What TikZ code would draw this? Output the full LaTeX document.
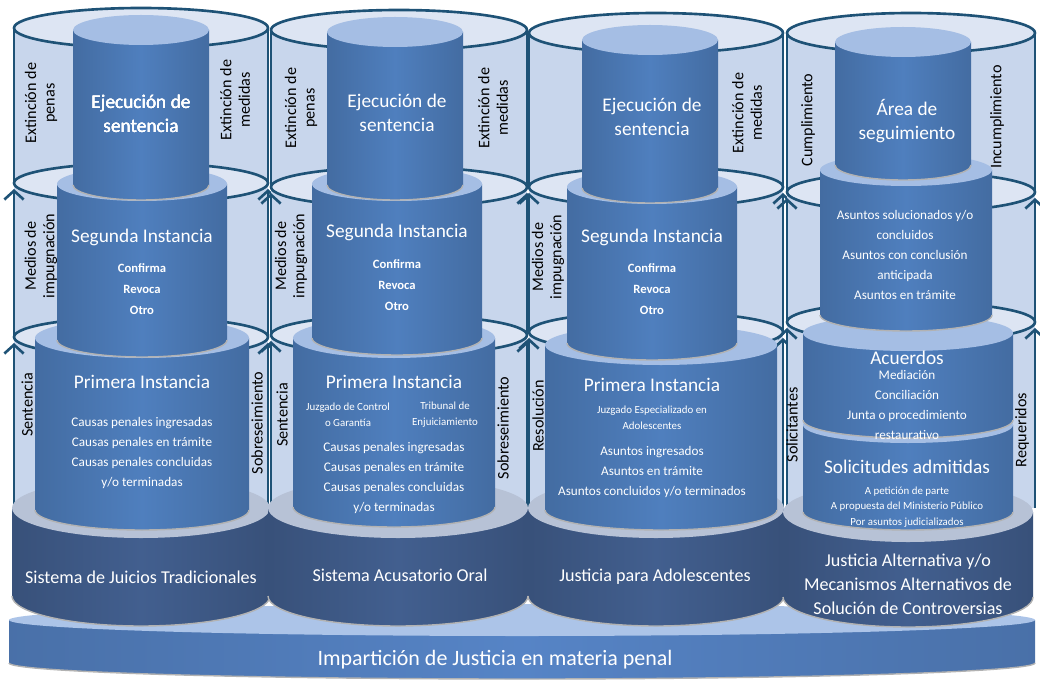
\documentclass[tikz,border=0pt]{standalone}
\usepackage{fontspec}
\setmainfont{Carlito}
\usetikzlibrary{arrows.meta}

\definecolor{tubofondo}{RGB}{200,214,236}
\definecolor{tubotapa}{RGB}{221,229,243}
\definecolor{tuborilla}{RGB}{30,82,118}
\definecolor{azul}{RGB}{79,127,190}
\definecolor{azultapa}{RGB}{165,190,228}
\definecolor{marino}{RGB}{66,95,143}
\definecolor{marinotapa}{RGB}{183,194,214}
\definecolor{plataforma}{RGB}{86,132,198}
\definecolor{plataformatapa}{RGB}{172,196,232}

%% cylinder: x centre, x radius, top y, bottom y, y radius, body colour, cap colour
\newcommand{\cilindro}[7]{%
  \shade[left color=#6!85!black,right color=#6!85!black,middle color=#6]
    (#1-#2,#3) -- (#1-#2,#4)
    arc[start angle=180,end angle=360,x radius={#2*0.02cm},y radius={#5*0.02cm}]
    -- (#1+#2,#3) -- cycle;
  \draw[black!30,line width=0.8pt] (#1-#2,#4)
    arc[start angle=180,end angle=360,x radius={#2*0.02cm},y radius={#5*0.02cm}];
  \fill[#7] (#1,#3) ellipse[x radius={#2*0.02cm},y radius={#5*0.02cm}];
}

\begin{document}
\begin{tikzpicture}
[x=0.02cm,y=0.02cm,
  borde/.style={tuborilla,line width=1.5pt},
  flecha/.style={borde,-{Straight Barb[length=5pt,width=11pt]}},
  anillo/.style={borde,fill=tubotapa},
  titulo/.style={text=white,align=center,font=\fontsize{11}{14}\selectfont},
  lista/.style={text=white,align=center,font=\fontsize{7.5}{11.4}\selectfont},
  breve/.style={text=white,align=center,font=\bfseries\fontsize{7.2}{12}\selectfont},
  chica/.style={text=white,align=center,font=\fontsize{6.2}{9}\selectfont},
  sistema/.style={text=white,align=center,font=\fontsize{10.3}{13.6}\selectfont},
  etiqueta/.style={text=black,align=center,rotate=90,font=\fontsize{9.2}{10.5}\selectfont}]
\useasboundingbox (0,0) rectangle (1040,-682);
%% platform under everything
\cilindro{522}{513}{-620}{-663}{16}{plataforma}{plataformatapa}
%% outer tubes and their rings
\foreach \xc/\rx/\ya/\yb/\yc in {141/127/-28/-183/-337, 399/128/-30/-187/-335,
  656/127/-33/-187/-332, 911/124/-33/-192/-322} {
  \fill[tubofondo] (\xc-\rx,\ya) rectangle (\xc+\rx,-508);
  \foreach \yr in {\ya,\yb,\yc}
    \filldraw[anillo] (\xc,\yr) ellipse[x radius={\rx*0.02cm},y radius=0.4cm];
  \foreach \xe in {\xc-\rx,\xc+\rx} {
    \draw[borde] (\xe,\ya) -- (\xe,\yb);
    \draw[flecha] (\xe,\yc) -- (\xe,\yb-6);
    \draw[flecha] (\xe,-508) -- (\xe,\yc-6);
  }
}
%% labels on the tubes
\foreach \nombre/\x/\y/\texto in {
  extpA/41/-103/{Extinción de\\penas}, extmA/235/-100/{Extinción de\\medidas},
  medA/41/-256/{Medios de\\impugnación}, senA/27/-405/Sentencia,
  sobA/257/-423/Sobreseimiento,
  extpB/301/-108/{Extinción de\\penas}, extmB/493/-108/{Extinción de\\medidas},
  medB/291/-256/{Medios de\\impugnación}, senB/282/-415/Sentencia,
  sobB/503/-428/Sobreseimiento,
  extmC/747/-113/{Extinción de\\medidas}, medC/548/-257/{Medios de\\impugnación},
  resC/538/-416/Resolución, sobC/767/-430/Sobreseimiento,
  cumD/808/-120/Cumplimiento, incD/997/-117/Incumplimiento,
  solD/792/-425/Solicitantes, reqD/1022/-430/Requeridos} {
  \node[etiqueta] (\nombre) at (\x,\y) {\texto};
}
%% stacked cylinders, lowest first
\foreach \xc/\rx/\yt/\yb/\ry/\cuerpo/\tapa in {
  141/129/-508/-596/30/marino/marinotapa, 398/130/-508/-596/30/marino/marinotapa,
  656/128/-508/-596/30/marino/marinotapa, 908/125/-512/-597/30/marino/marinotapa,
  142/107/-338/-510/20/azul/azultapa, 394/101/-338/-507/20/azul/azultapa,
  661/116/-345/-510/20/azul/azultapa, 908/105/-425/-512/18/azul/azultapa,
  908/105/-333/-420/18/azul/azultapa,
  142/85/-184/-340/17/azul/azultapa, 397/85/-184/-338/17/azul/azultapa,
  652/85/-187/-343/17/azul/azultapa, 906/86/-170/-315/16/azul/azultapa,
  141/68/-30/-185/15/azul/azultapa, 395/68/-32/-185/15/azul/azultapa,
  650/68/-40/-188/15/azul/azultapa, 903/68/-42/-165/15/azul/azultapa}
  \cilindro{\xc}{\rx}{\yt}{\yb}{\ry}{\cuerpo}{\tapa}
%% column A
\node[titulo] (ejecA) at (141,-114) {Ejecución de\\sentencia};
\node[titulo] (segA) at (142,-237) {Segunda Instancia};
\node[breve] (segAlista) at (142,-289) {Confirma\\Revoca\\Otro};
\node[titulo] (primA) at (142,-382) {Primera Instancia};
\node[lista] (primAlista) at (142,-453) {Causas penales ingresadas\\Causas penales en trámite\\Causas penales concluidas\\y/o terminadas};
\node[sistema] (sisA) at (141,-577) {Sistema de Juicios Tradicionales};
%% column B
\node[titulo] (ejecB) at (397,-113) {Ejecución de\\sentencia};
\node[titulo] (segB) at (397,-232) {Segunda Instancia};
\node[breve] (segBlista) at (397,-285) {Confirma\\Revoca\\Otro};
\node[titulo] (primB) at (394,-382) {Primera Instancia};
\node[chica] (juzB) at (348,-415) {Juzgado de Control\\o Garantía};
\node[chica] (tribB) at (445,-415) {Tribunal de\\Enjuiciamiento};
\node[lista] (primBlista) at (394,-478) {Causas penales ingresadas\\Causas penales en trámite\\Causas penales concluidas\\y/o terminadas};
\node[sistema] (sisB) at (400,-575) {Sistema Acusatorio Oral};
%% column C
\node[titulo] (ejecC) at (652,-117) {Ejecución de\\sentencia};
\node[titulo] (segC) at (652,-237) {Segunda Instancia};
\node[breve] (segClista) at (652,-289) {Confirma\\Revoca\\Otro};
\node[titulo] (primC) at (652,-385) {Primera Instancia};
\node[chica] (juzC) at (652,-418) {Juzgado Especializado en\\Adolescentes};
\node[lista] (primClista) at (652,-472) {Asuntos ingresados\\Asuntos en trámite\\Asuntos concluidos y/o terminados};
\node[sistema] (sisC) at (655,-577) {Justicia para Adolescentes};
%% column D
\node[titulo] (areaD) at (907,-121) {Área de\\seguimiento};
\node[lista] (asunD) at (905,-255) {Asuntos solucionados y/o\\concluidos\\Asuntos con conclusión\\anticipada\\Asuntos en trámite};
\node[titulo] (acuD) at (907,-358) {Acuerdos};
\node[lista] (acuDlista) at (907,-405) {Mediación\\Conciliación\\Junta o procedimiento\\restaurativo};
\node[titulo] (solicD) at (907,-467) {Solicitudes admitidas};
\node[chica] (solicDlista) at (907,-507) {A petición de parte\\A propuesta del Ministerio Público\\Por asuntos judicializados};
\node[sistema] (sisD) at (908,-584) {Justicia Alternativa y/o\\Mecanismos Alternativos de\\Solución de Controversias};
%% platform text
\node[sistema,font=\fontsize{12.5}{14}\selectfont] (impart) at (495,-660) {Impartición de Justicia en materia penal};
\end{tikzpicture}
\end{document}
